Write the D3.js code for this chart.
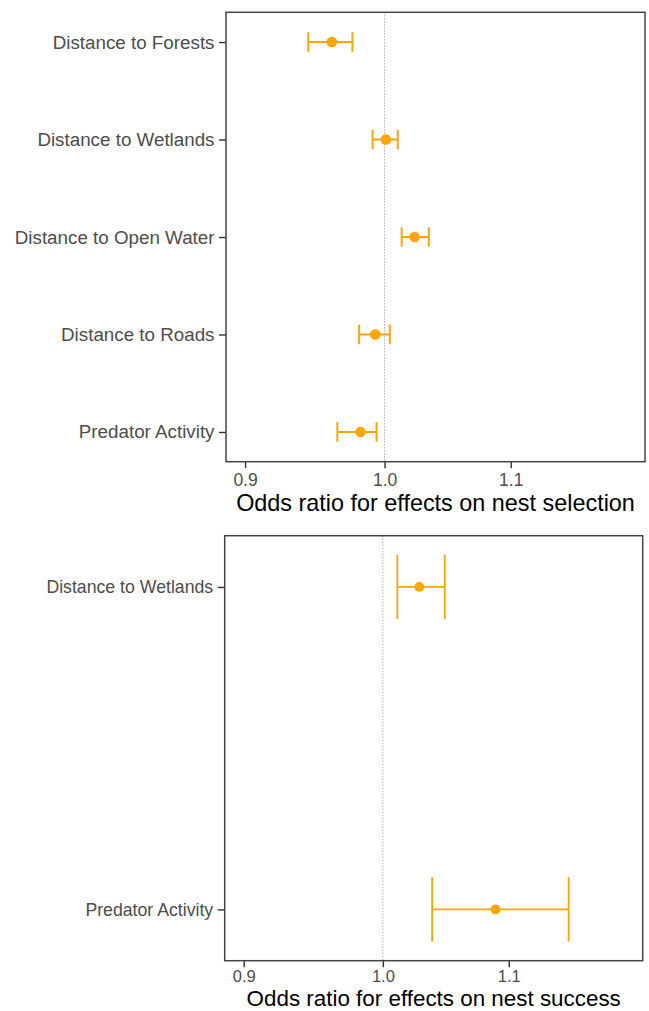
<!DOCTYPE html>
<html>
<head>
<meta charset="utf-8">
<script src="https://cdn.jsdelivr.net/npm/d3@7"></script>
<style>
  html, body { margin: 0; padding: 0; background: #ffffff; }
  svg { display: block; }
  text { font-family: "Liberation Sans", Arial, Helvetica, sans-serif; }
</style>
</head>
<body>
<svg id="chart" width="649" height="1011"></svg>
<script>
// Odds ratios with 95% intervals, nest-site selection model
const selectionTerms = ["Distance to Forests", "Distance to Wetlands", "Distance to Open Water", "Distance to Roads", "Predator Activity"];
const selectionEstimate = [0.961, 1.001, 1.023, 0.993, 0.982];
const selectionLower    = [0.944, 0.991, 1.013, 0.981, 0.965];
const selectionUpper    = [0.976, 1.010, 1.034, 1.004, 0.994];

// Odds ratios with 95% intervals, nest success model
const successTerms = ["Distance to Wetlands", "Predator Activity"];
const successEstimate = [1.028, 1.089];
const successLower    = [1.011, 1.038];
const successUpper    = [1.048, 1.151];

// Shared x axis
const xLimits = [0.9, 1.2];
const xTicks = [0.9, 1.0, 1.1];
const tickFormat = d3.format(".1f");

const svg = d3.select("#chart");
const accent = "#FFA500";

function rows(terms, est, lo, hi) {
  return terms.map((t, i) => ({ term: t, est: est[i], lo: lo[i], hi: hi[i] }));
}

function drawPanel(cfg) {
  const data = rows(cfg.terms, cfg.est, cfg.lo, cfg.hi);
  const { left, right, top, bottom } = cfg.box;

  // log-scaled x with 5% expansion of the limits (in log space)
  const l0 = Math.log(xLimits[0]), l1 = Math.log(xLimits[1]);
  const pad = (l1 - l0) * 0.05;
  const x = d3.scaleLog()
    .domain([Math.exp(l0 - pad), Math.exp(l1 + pad)])
    .range([left, right]);

  const y = d3.scalePoint()
    .domain(cfg.terms)
    .range([top, bottom])
    .padding(cfg.yPadding);

  const g = svg.append("g");

  // reference line at an odds ratio of 1
  g.append("line")
    .attr("x1", x(1)).attr("x2", x(1))
    .attr("y1", top).attr("y2", bottom)
    .attr("stroke", "#9a9a9a")
    .attr("stroke-width", 1)
    .attr("stroke-dasharray", "1.2,1.8");

  // x axis
  const xAxis = d3.axisBottom(x)
    .tickValues(xTicks)
    .tickFormat(tickFormat)
    .tickSizeInner(6.5)
    .tickSizeOuter(0)
    .tickPadding(cfg.xTickPad);
  const gx = g.append("g")
    .attr("transform", `translate(0,${bottom})`)
    .call(xAxis);
  gx.select(".domain").remove();
  gx.selectAll(".tick line").attr("stroke", "#333333").attr("stroke-width", 1.4);
  gx.selectAll(".tick text")
    .attr("fill", "#4d4d4d")
    .attr("font-size", cfg.xTickSize)
    .style("font-family", '"Liberation Sans", Arial, sans-serif');

  // y axis
  const yAxis = d3.axisLeft(y)
    .tickSizeInner(7)
    .tickSizeOuter(0)
    .tickPadding(4.5);
  const gy = g.append("g")
    .attr("transform", `translate(${left},0)`)
    .call(yAxis);
  gy.select(".domain").remove();
  gy.selectAll(".tick line").attr("stroke", "#333333").attr("stroke-width", 1.4);
  gy.selectAll(".tick text")
    .attr("fill", "#4d4d4d")
    .attr("font-size", cfg.yTickSize)
    .style("font-family", '"Liberation Sans", Arial, sans-serif');

  // error bars
  const capHalf = y.step() * 0.1;
  const bars = g.append("g").selectAll("g").data(data).join("g")
    .attr("stroke", accent)
    .attr("stroke-width", cfg.barWidth)
    .attr("fill", "none");
  bars.append("line")
    .attr("x1", d => x(d.lo)).attr("x2", d => x(d.hi))
    .attr("y1", d => y(d.term)).attr("y2", d => y(d.term));
  bars.append("line")
    .attr("x1", d => x(d.lo)).attr("x2", d => x(d.lo))
    .attr("y1", d => y(d.term) - capHalf).attr("y2", d => y(d.term) + capHalf);
  bars.append("line")
    .attr("x1", d => x(d.hi)).attr("x2", d => x(d.hi))
    .attr("y1", d => y(d.term) - capHalf).attr("y2", d => y(d.term) + capHalf);

  // point estimates
  g.append("g").selectAll("circle").data(data).join("circle")
    .attr("cx", d => x(d.est))
    .attr("cy", d => y(d.term))
    .attr("r", cfg.pointR)
    .attr("fill", accent);

  // panel border
  g.append("rect")
    .attr("x", left).attr("y", top)
    .attr("width", right - left).attr("height", bottom - top)
    .attr("fill", "none")
    .attr("stroke", "#444444")
    .attr("stroke-width", 1.5);

  // axis title
  g.append("text")
    .attr("x", (left + right) / 2)
    .attr("y", cfg.titleY)
    .attr("text-anchor", "middle")
    .attr("font-size", cfg.titleSize)
    .attr("fill", "#000000")
    .text(cfg.title);
}

drawPanel({
  terms: selectionTerms, est: selectionEstimate, lo: selectionLower, hi: selectionUpper,
  box: { left: 226, right: 645, top: 12.3, bottom: 461.7 },
  yPadding: 0.305,
  xTickSize: "17.5px", yTickSize: "18.8px", xTickPad: 5,
  barWidth: 2, pointR: 5.3,
  title: "Odds ratio for effects on nest selection",
  titleSize: "23.4px", titleY: 511
});

drawPanel({
  terms: successTerms, est: successEstimate, lo: successLower, hi: successUpper,
  box: { left: 224.7, right: 642.7, top: 535.7, bottom: 960.7 },
  yPadding: 0.159,
  xTickSize: "16.5px", yTickSize: "17.7px", xTickPad: 3,
  barWidth: 1.8, pointR: 4.9,
  title: "Odds ratio for effects on nest success",
  titleSize: "22.4px", titleY: 1006
});
</script>
</body>
</html>
